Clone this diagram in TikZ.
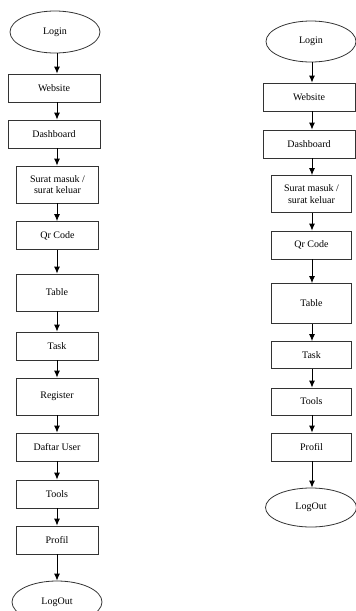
\documentclass[tikz,border=0pt]{standalone}
\usepackage{fontspec}
\setmainfont{Liberation Serif}
\usetikzlibrary{arrows.meta,shapes.geometric}
\begin{document}
\begin{tikzpicture}[x=1pt,y=-1pt,
  every node/.style={font=\fontsize{10}{11.5}\selectfont, inner sep=0pt, draw=black!80, line width=0.8pt, align=center},
  box/.style={rectangle, minimum width=#1, minimum height=28},
  tallbox/.style={rectangle, minimum width=#1, minimum height=37},
  oval/.style={ellipse, minimum width=#1, minimum height=42},
  arr/.style={draw=black, line width=0.9pt, -{Latex[length=7pt,width=6pt]}}
]
\useasboundingbox (0,0) rectangle (356,611);
\coordinate (colL) at (57,0);
\coordinate (colR) at (312,0);
% left column
\node[oval=90] (l1) at (55,32) {Login};
\node[box=92] (l2) at (54,88) {Website};
\node[box=92] (l3) at (54,134) {Dashboard};
\node[tallbox=82] (l4) at (57.5,184.5) {Surat masuk /\\surat keluar};
\node[box=82] (l5) at (57.5,235.5) {Qr Code};
\node[tallbox=82] (l6) at (57,292.5) {Table};
\node[box=82] (l7) at (57,346) {Task};
\node[tallbox=82] (l8) at (57,396.5) {Register};
\node[box=82] (l9) at (57,447) {Daftar User};
\node[box=82] (l10) at (57,494) {Tools};
\node[box=82] (l11) at (57,540) {Profil};
\node[oval=90] (l12) at (57,602) {LogOut};
\foreach \a/\b in {l1/l2,l2/l3,l3/l4,l4/l5,l5/l6,l6/l7,l7/l8,l8/l9,l9/l10,l10/l11,l11/l12}
  \draw[arr] (\a.south -| colL) -- (\b.north -| colL);
% right column
\node[oval=90, minimum height=41] (r1) at (311,41.5) {Login};
\node[box=92] (r2) at (309,97) {Website};
\node[box=92] (r3) at (309,144) {Dashboard};
\node[tallbox=80] (r4) at (311.5,194) {Surat masuk /\\surat keluar};
\node[box=80] (r5) at (311.5,245) {Qr Code};
\node[rectangle, minimum width=80, minimum height=40] (r6) at (311.5,303.5) {Table};
\node[box=80, minimum height=27] (r7) at (311.5,355) {Task};
\node[box=80, minimum height=27] (r8) at (311.5,401.5) {Tools};
\node[box=80] (r9) at (311.5,447) {Profil};
\node[oval=91, minimum height=39] (r10) at (311,507.5) {LogOut};
\foreach \a/\b in {r1/r2,r2/r3,r3/r4,r4/r5,r5/r6,r6/r7,r7/r8,r8/r9,r9/r10}
  \draw[arr] (\a.south -| colR) -- (\b.north -| colR);
\end{tikzpicture}
\end{document}
